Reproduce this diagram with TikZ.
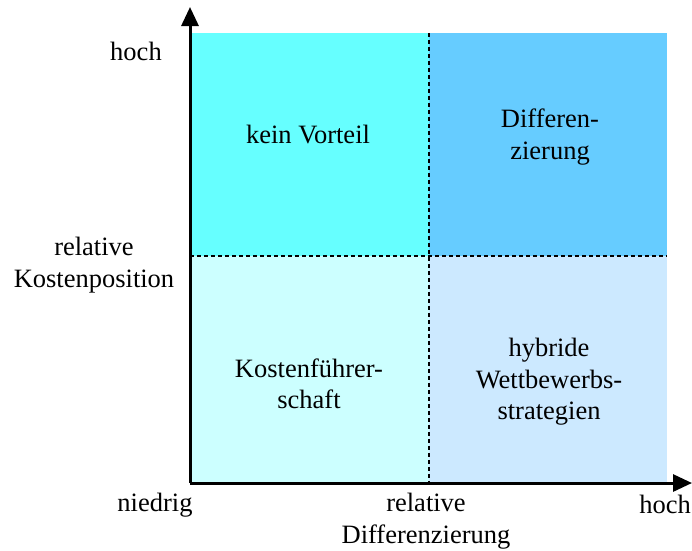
\documentclass[tikz,border=0pt]{standalone}
\usepackage{fontspec}
\setmainfont{Liberation Serif}
\usetikzlibrary{arrows.meta}
\definecolor{qtl}{HTML}{66FFFF}
\definecolor{qtr}{HTML}{66CCFF}
\definecolor{qbl}{HTML}{CCFFFF}
\definecolor{qbr}{HTML}{CCE9FF}
\tikzset{
  lbl/.style={font=\fontsize{26.5}{31.5}\selectfont, align=center, inner sep=0pt},
  axis/.style={line width=3pt, -{Triangle[width=17pt,length=19pt]}},
  divider/.style={line width=1.3pt, dash pattern=on 4pt off 3pt},
}
\begin{document}
\begin{tikzpicture}[x=1pt,y=-1pt]
\useasboundingbox (0,0) rectangle (692,550);
% quadrants
\fill[qtl] (190,33) rectangle (429,256);
\fill[qtr] (429,33) rectangle (667,256);
\fill[qbl] (190,256) rectangle (429,483);
\fill[qbr] (429,256) rectangle (667,483);
% dividers
\coordinate (vt) at (429,33);
\coordinate (vb) at (429,483);
\coordinate (hl) at (190,256);
\coordinate (hr) at (667,256);
\draw[divider] (vt) -- (vb);
\draw[divider] (hl) -- (hr);
% axes
\coordinate (o) at (190,483);
\coordinate (ytip) at (190,7);
\coordinate (xtip) at (692,483);
\draw[axis] (o) -- (ytip);
\draw[axis] (o) -- (xtip);
% quadrant labels
\node[lbl] (tl) at (308,134) {kein Vorteil};
\node[lbl] (tr) at (550,137) {Differen-\\zierung};
\node[lbl] (bl) at (309,384) {Kostenführer-\\schaft};
\node[lbl] (br) at (549,382) {hybride\\Wettbewerbs-\\strategien};
% axis labels
\node[lbl] (yhigh) at (136,51) {hoch};
\node[lbl] (ylab) at (94,265) {relative\\Kostenposition};
\node[lbl] (xlow) at (155,505) {niedrig};
\node[lbl] (xlab) at (426,521) {relative\\Differenzierung};
\node[lbl] (xhigh) at (665,504) {hoch};
\end{tikzpicture}
\end{document}
